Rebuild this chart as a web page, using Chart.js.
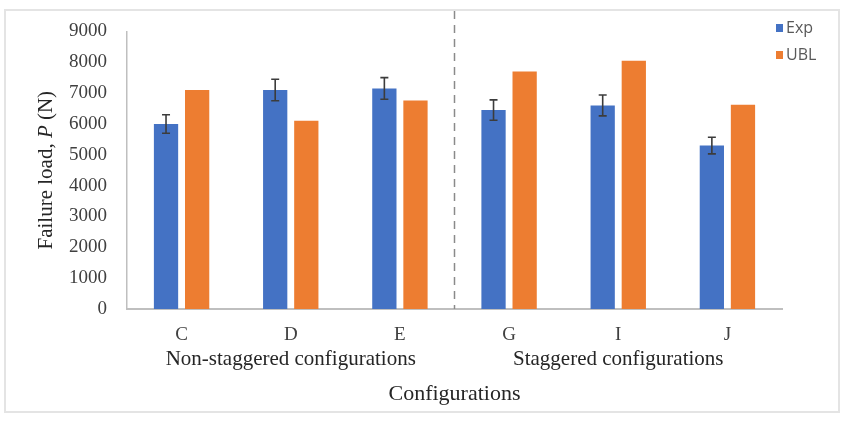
<!DOCTYPE html>
<html>
<head>
<meta charset="utf-8">
<style>
  html, body { margin: 0; padding: 0; background: #fff; }
  .frame { position: absolute; left: 4px; top: 9px; width: 832px; height: 400px; border: 2px solid #e4e4e4; }
  .wrap { position: absolute; left: 0; top: 0; width: 852px; height: 426px; }
</style>
<script src="https://cdn.jsdelivr.net/npm/chart.js@4.4.1/dist/chart.umd.min.js"></script>
</head>
<body>
<div class="frame"></div>
<div class="wrap"><canvas id="chart"></canvas></div>
<script>
const configs = ['C', 'D', 'E', 'G', 'I', 'J'];
const groups = ['Non-staggered configurations', 'Staggered configurations'];
const expLoad = [6000, 7100, 7150, 6450, 6600, 5300];
const expErr = [300, 350, 350, 330, 340, 270];
const ublLoad = [7100, 6100, 6760, 7700, 8050, 6620];

const serif = '"Liberation Serif", "Times New Roman", serif';

// error bars on the Exp series
const errorBars = {
  id: 'errorBars',
  afterDatasetsDraw(chart) {
    const ctx = chart.ctx;
    const y = chart.scales.y;
    const meta = chart.getDatasetMeta(0);
    ctx.save();
    ctx.strokeStyle = '#3c3c3c';
    ctx.lineWidth = 1.6;
    meta.data.forEach((bar, i) => {
      const top = y.getPixelForValue(expLoad[i] + expErr[i]);
      const bot = y.getPixelForValue(expLoad[i] - expErr[i]);
      ctx.beginPath();
      ctx.moveTo(bar.x, top); ctx.lineTo(bar.x, bot);
      ctx.moveTo(bar.x - 4, top); ctx.lineTo(bar.x + 4, top);
      ctx.moveTo(bar.x - 4, bot); ctx.lineTo(bar.x + 4, bot);
      ctx.stroke();
    });
    ctx.restore();
  }
};

// dashed separator between the two groups
const divider = {
  id: 'divider',
  afterDatasetsDraw(chart) {
    const ctx = chart.ctx;
    const x = chart.scales.x;
    const px = (x.getPixelForValue(2) + x.getPixelForValue(3)) / 2;
    ctx.save();
    ctx.strokeStyle = '#8a8a8a';
    ctx.lineWidth = 1.5;
    ctx.setLineDash([8, 6]);
    ctx.beginPath();
    ctx.moveTo(px, 11);
    ctx.lineTo(px, chart.chartArea.bottom);
    ctx.stroke();
    ctx.restore();
  }
};

// y title with italic P, plus legend in the top right corner
const extras = {
  id: 'extras',
  afterDraw(chart) {
    const ctx = chart.ctx;
    const area = chart.chartArea;
    const y = chart.scales.y;
    ctx.save();
    ctx.translate(y.left + 41, (area.top + area.bottom) / 2);
    ctx.rotate(-Math.PI / 2);
    ctx.fillStyle = '#262626';
    ctx.textBaseline = 'middle';
    const parts = [['Failure load, ', 'normal'], ['P', 'italic'], [' (N)', 'normal']];
    const fontOf = s => s + ' 21px ' + serif;
    let total = 0;
    parts.forEach(p => { ctx.font = fontOf(p[1]); total += ctx.measureText(p[0]).width; });
    let cx = -total / 2;
    parts.forEach(p => {
      ctx.font = fontOf(p[1]);
      ctx.fillText(p[0], cx, 0);
      cx += ctx.measureText(p[0]).width;
    });
    ctx.restore();

    ctx.save();
    ctx.font = '16px "Open Sans", sans-serif';
    ctx.textBaseline = 'middle';
    chart.data.datasets.forEach((ds, i) => {
      const ly = 28 + i * 27;
      const lx = area.right - 6;
      ctx.fillStyle = ds.backgroundColor;
      ctx.fillRect(lx, ly - 4, 7, 8);
      ctx.fillStyle = '#595959';
      ctx.fillText(ds.label, lx + 10, ly);
    });
    ctx.restore();
  }
};

new Chart(document.getElementById('chart'), {
  type: 'bar',
  data: {
    labels: configs,
    datasets: [
      { label: 'Exp', data: expLoad, backgroundColor: '#4472C4' },
      { label: 'UBL', data: ublLoad, backgroundColor: '#ED7D31' }
    ]
  },
  options: {
    responsive: true,
    maintainAspectRatio: false,
    animation: false,
    layout: { padding: { left: 5, right: 70, top: 24, bottom: 19 } },
    datasets: { bar: { categoryPercentage: 0.57, barPercentage: 0.78 } },
    plugins: {
      legend: { display: false },
      tooltip: { enabled: false }
    },
    scales: {
      y: {
        min: 0,
        max: 9000,
        ticks: { stepSize: 1000, padding: 20, color: '#404040', font: { family: serif, size: 19 }, callback: v => String(v) },
        grid: { display: false, drawTicks: false },
        border: { color: '#bfbfbf', width: 1.5 },
        afterFit: s => { s.width = 122; }
      },
      x: {
        weight: 0,
        ticks: { padding: 15, color: '#404040', font: { family: serif, size: 19 } },
        grid: { display: false, drawTicks: false },
        border: { color: '#bfbfbf', width: 2 },
        afterFit: s => { s.height = 37; }
      },
      xGroup: {
        type: 'category',
        position: 'bottom',
        weight: 1,
        labels: groups,
        offset: true,
        ticks: { padding: 1, color: '#262626', font: { family: serif, size: 21 } },
        grid: { display: false, drawTicks: false, offset: true },
        border: { display: false },
        title: { display: true, text: 'Configurations', color: '#262626', padding: { top: 9, bottom: 0 }, font: { family: serif, size: 22 } },
        afterFit: s => { s.height = 61; }
      }
    }
  },
  plugins: [errorBars, divider, extras]
});
</script>
</body>
</html>
